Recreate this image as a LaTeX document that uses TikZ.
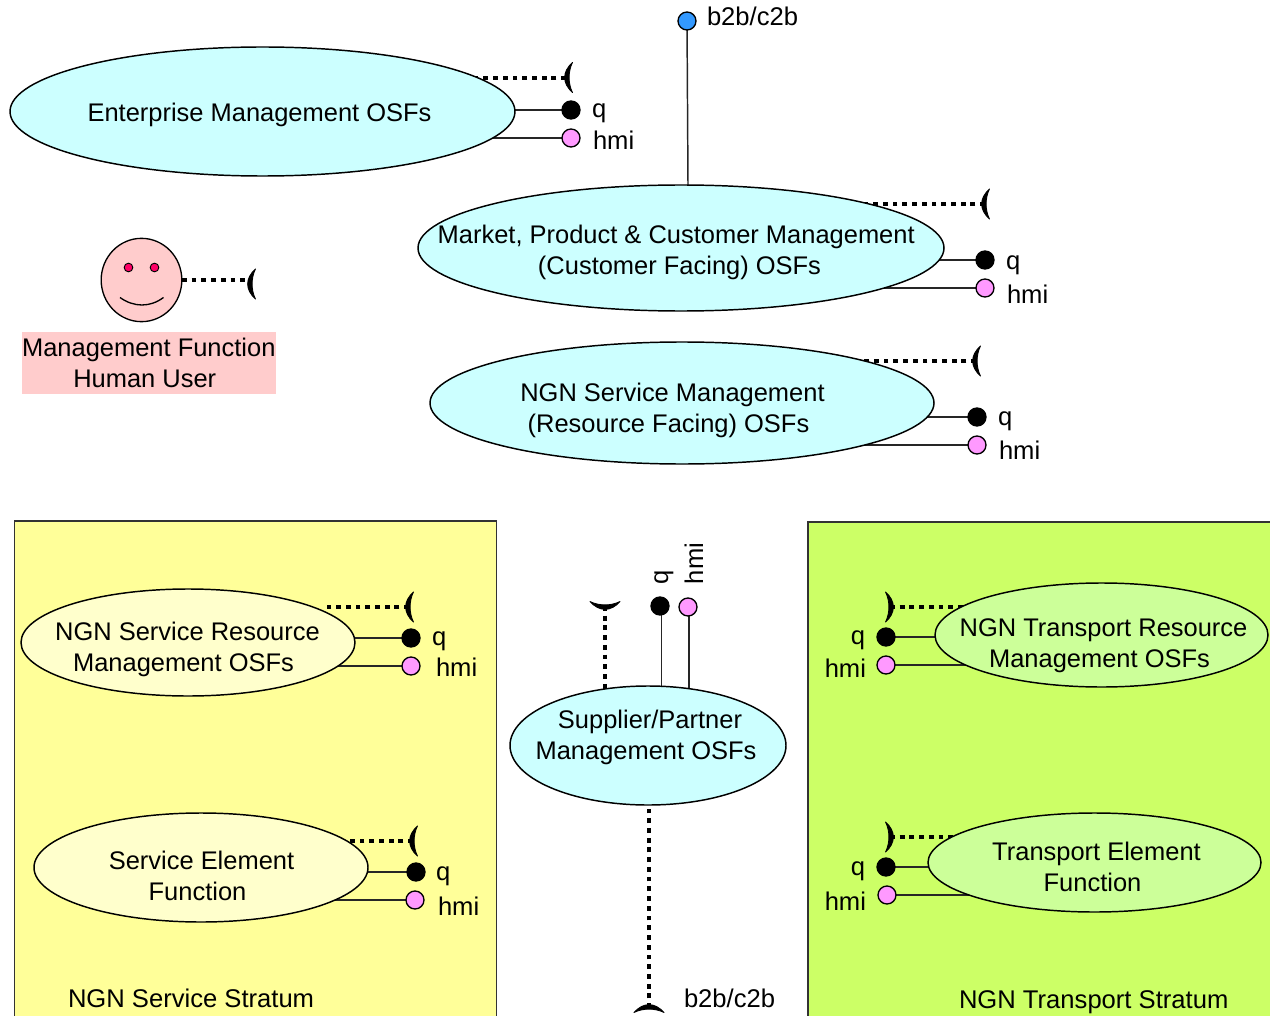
\documentclass[tikz,border=0pt]{standalone}
\usepackage{fontspec}
\setmainfont{Liberation Sans}
\usetikzlibrary{shapes.geometric,calc}
\pgfdeclarelayer{back}
\pgfsetlayers{back,main}
\definecolor{cyanfill}{HTML}{CCFFFF}
\definecolor{paleyellow}{HTML}{FFFFCC}
\definecolor{palegreen}{HTML}{CCFF99}
\definecolor{boxyellow}{HTML}{FFFF99}
\definecolor{boxgreen}{HTML}{CCFF66}
\definecolor{hmipink}{HTML}{FF99FF}
\definecolor{facepink}{HTML}{FFCCCC}
\definecolor{eyered}{HTML}{FF0066}
\definecolor{b2bblue}{HTML}{3399FF}
\tikzset{
  x=0.75pt,y=-0.75pt,
  every node/.style={inner sep=0pt,outer sep=0pt,font=\fontsize{19.1}{23.25}\selectfont},
  ell/.style={ellipse,draw=black,line width=1.1pt,minimum width=#1},
  ellh/.style={minimum height=#1},
  txt/.style={align=center},
  lbl/.style={anchor=base west,font=\fontsize{19.2}{23.25}\selectfont},
  lblr/.style={anchor=base east,font=\fontsize{19.2}{23.25}\selectfont},
  dotq/.style={circle,draw=black,fill=black,line width=1pt,minimum size=13.5pt},
  doth/.style={circle,draw=black,fill=hmipink,line width=1pt,minimum size=13.5pt},
  dotb/.style={circle,draw=black,fill=b2bblue,line width=1pt,minimum size=13.5pt},
  wire/.style={draw=black!85,line width=1.1pt},
  dotline/.style={draw=black,line width=3.6pt,dash pattern=on 3.6pt off 3.7pt},
  pics/sock/.style={code={
    \filldraw[black,line width=.6pt,line join=round] (4.5,-15) .. controls (-6,-6) and (-6,6) .. (4.5,15)
       .. controls (0,6) and (0,-6) .. (4.5,-15) -- cycle;
  }},
}
\newcommand{\twolines}[2]{\kern3pt #1\\#2\kern3pt}
\begin{document}
\begin{tikzpicture}
\clip (0,0) rectangle (1270,1016);
\begin{pgfonlayer}{back}
  \node[draw=black!80,line width=1pt,fill=boxyellow,minimum width=361.5pt,minimum height=372pt,anchor=north west] (svcbox) at (14.5,521) {};
  \node[draw=black!80,line width=1pt,fill=boxgreen,minimum width=350pt,minimum height=372pt,anchor=north west] (trpbox) at (808,522) {};
\end{pgfonlayer}

% ellipses
\node[ell=378.75pt,ellh=96.75pt,fill=cyanfill] (ent) at (262.5,111.5) {};
\node[ell=394.5pt,ellh=94.5pt,fill=cyanfill] (mkt) at (681,248) {};
\node[ell=378pt,ellh=91.5pt,fill=cyanfill] (sm) at (682,403) {};
\node[ell=250.5pt,ellh=80.25pt,fill=paleyellow] (nsr) at (188,642.5) {};
\node[ell=250.5pt,ellh=81.75pt,fill=paleyellow] (se) at (201,867.5) {};
\node[ell=207pt,ellh=89.25pt,fill=cyanfill] (sup) at (648,745.5) {};
\node[ell=249.75pt,ellh=78pt,fill=palegreen] (tr) at (1101.5,635) {};
\node[ell=249.75pt,ellh=74.25pt,fill=palegreen] (te) at (1094.5,862.5) {};

% ellipse texts
\node[txt] (tent) at (259.5,115) {Enterprise Management OSFs};
\node[txt] (tmkt) at (677.5,252.5) {Market, Product \& Customer Management\kern2pt\\\kern3pt (Customer Facing) OSFs};
\node[txt] (tsm) at (670.5,410) {\twolines{NGN Service Management}{(Resource Facing) OSFs}};
\node[txt] (tnsr) at (185.5,649.5) {\twolines{NGN Service Resource}{Management OSFs}};
\node[txt] (tse) at (199.5,875.5) {\twolines{Service Element}{Function}};
\node[txt] (tsup) at (648,737.5) {\twolines{Supplier/Partner}{Management OSFs}};
\node[txt] (ttr) at (1101.5,645.5) {\twolines{NGN Transport Resource}{Management OSFs}};
\node[txt] (tte) at (1094.5,866.5) {\twolines{Transport Element}{Function}};

% face
\node[ellipse,draw=black,line width=1pt,fill=facepink,minimum width=60.5pt,minimum height=62.5pt] (face) at (141.5,280) {};
\node[circle,draw=black,line width=.7pt,fill=eyered,minimum size=6.5pt] (eyeL) at (128.5,267.5) {};
\node[circle,draw=black,line width=.7pt,fill=eyered,minimum size=6.5pt] (eyeR) at (154.5,267.5) {};
\coordinate (smL) at (120,297.5);
\coordinate (smR) at (163.5,297.5);
\draw[line width=1pt] (smL) .. controls (134,307.5) and (150,307.5) .. (smR);
\node[fill=facepink,minimum width=190.5pt,minimum height=46.5pt,anchor=north west] (mfbox) at (22,332) {};
\node[txt] (mftxt) at (146.8,363) {\kern3pt Management Function\\Human User\kern3pt};

% sockets
\coordinate (sEnt) at (568,77.5);
\coordinate (sMkt) at (985,204);
\coordinate (sSm) at (976,361);
\coordinate (sFace) at (251,284);
\coordinate (sNsr) at (409,607);
\coordinate (sSe) at (413,841);
\coordinate (sSup) at (605,606);
\coordinate (sB2b) at (649,1008);
\coordinate (sTr) at (890,607);
\coordinate (sTe) at (890,837);
\coordinate (eNsr) at (327,607);
\pic at (sEnt) {sock};
\pic at (sMkt) {sock};
\pic at (sSm) {sock};
\pic at (sFace) {sock};
\pic at (sNsr) {sock};
\pic at (sSe) {sock};
\pic[rotate=90] at (sSup) {sock};
\pic[rotate=-90] at (sB2b) {sock};
\pic[rotate=180] at (sTr) {sock};
\pic[rotate=180] at (sTe) {sock};

% terminals
\node[dotq] (qEnt) at (571,110) {};
\node[doth] (hEnt) at (571,138) {};
\node[dotq] (qMkt) at (985,260) {};
\node[doth] (hMkt) at (985,288) {};
\node[dotq] (qSm) at (977,417) {};
\node[doth] (hSm) at (977,445) {};
\node[dotq] (qNsr) at (411,638) {};
\node[doth] (hNsr) at (411,666) {};
\node[dotq] (qSe) at (416,872) {};
\node[doth] (hSe) at (415,900) {};
\node[dotq] (qSup) at (660,606) {};
\node[doth] (hSup) at (688,607) {};
\node[dotq] (qTr) at (886,637) {};
\node[doth] (hTr) at (886,665) {};
\node[dotq] (qTe) at (886,867) {};
\node[doth] (hTe) at (887,895) {};
\node[dotb] (bTop) at (687,21) {};

\begin{pgfonlayer}{back}
  \draw[wire] (qEnt) -- (qEnt -| ent.center);
  \draw[wire] (hEnt) -- (hEnt -| ent.center);
  \draw[wire] (qMkt) -- (qMkt -| mkt.center);
  \draw[wire] (hMkt) -- (hMkt -| mkt.center);
  \draw[wire] (qSm) -- (qSm -| sm.center);
  \draw[wire] (hSm) -- (hSm -| sm.center);
  \draw[wire] (qNsr) -- (qNsr -| nsr.center);
  \draw[wire] (hNsr) -- (hNsr -| nsr.center);
  \draw[wire] (qSe) -- (qSe -| se.center);
  \draw[wire] (hSe) -- (hSe -| se.center);
  \draw[wire] (qTr) -- (qTr -| tr.center);
  \draw[wire] (hTr) -- (hTr -| tr.center);
  \draw[wire] (qTe) -- (qTe -| te.center);
  \draw[wire] (hTe) -- (hTe -| te.center);
  \draw[wire] (qSup.center) ++(1.5,0) -- ($(qSup |- sup.center)+(1.5,0)$);
  \draw[wire] (hSup.center) ++(1,0) -- ($(hSup |- sup.center)+(1,0)$);
  \draw[wire] (bTop) -- (mkt.north -| 688,0);
  \draw[dotline] (sEnt) ++(-2,0.5) -- ($(sEnt -| ent.center)+(0,0.5)$);
  \draw[dotline] (sMkt) -- (sMkt -| mkt.center);
  \draw[dotline] (sSm) -- (sSm -| sm.center);
  \draw[dotline] (face.east) -- (sFace |- face.east);
  \draw[dotline] (sNsr) -- (eNsr);
  \draw[dotline] (sSe) -- (sSe -| se.center);
  \draw[dotline] (sSup) -- (sSup |- sup.center);
  \draw[dotline] (sB2b) -- (sB2b |- sup.center);
  \draw[dotline] (sTr) -- (sTr -| tr.center);
  \draw[dotline] (sTe) -- (sTe -| te.center);
\end{pgfonlayer}

% terminal labels
\node[lbl] (lqEnt) at (592,118) {q};
\node[lbl] (lhEnt) at (593,150) {hmi};
\node[lbl] (lqMkt) at (1006,269) {q};
\node[lbl] (lhMkt) at (1007,303) {hmi};
\node[lbl] (lqSm) at (998,425) {q};
\node[lbl] (lhSm) at (999,459) {hmi};
\node[lbl] (lqNsr) at (432,645) {q};
\node[lbl] (lhNsr) at (436,676) {hmi};
\node[lbl] (lqSe) at (436,880) {q};
\node[lbl] (lhSe) at (438,915) {hmi};
\node[lbl,rotate=90] (lqSup) at (668,584) {q};
\node[lbl,rotate=90] (lhSup) at (703,584) {hmi};
\node[lblr] (lqTr) at (865,644) {q};
\node[lblr] (lhTr) at (866,677) {hmi};
\node[lblr] (lqTe) at (865,875) {q};
\node[lblr] (lhTe) at (866,910) {hmi};
\node[lbl] (lbTop) at (707,26) {b2b/c2b};
\node[lbl] (lbBot) at (684,1007) {b2b/c2b};
\node[lbl] (lsvc) at (68,1007) {NGN Service Stratum};
\node[lbl] (ltrp) at (959,1008) {NGN Transport Stratum};
\end{tikzpicture}
\end{document}
